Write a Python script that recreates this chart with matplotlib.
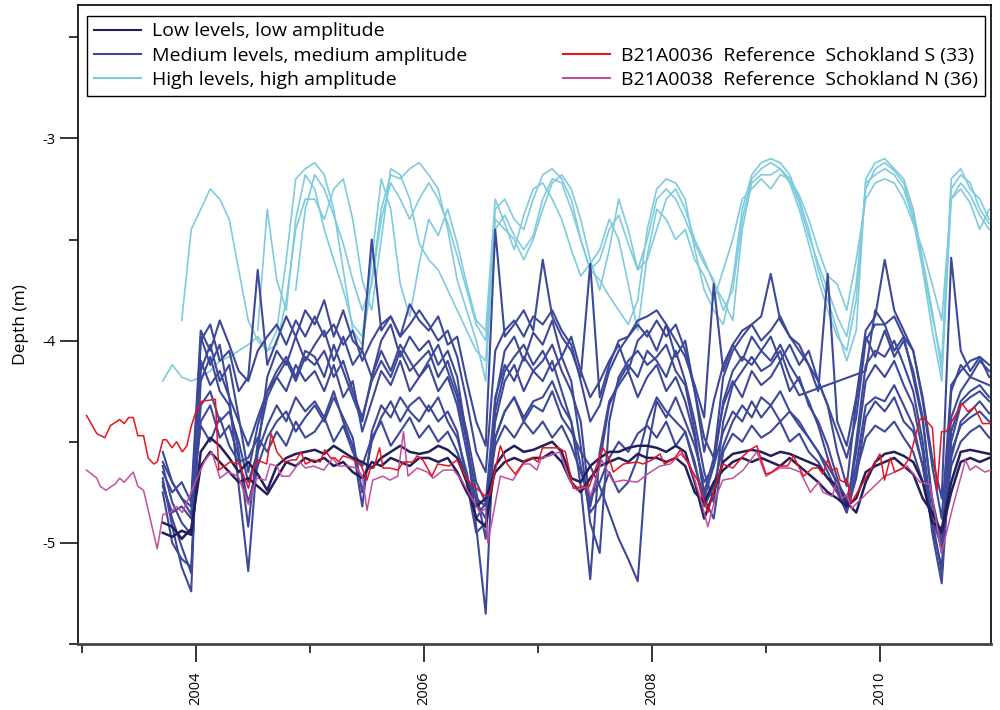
import numpy as np
import matplotlib
matplotlib.use("Agg")
import matplotlib.pyplot as plt
from matplotlib.lines import Line2D

plt.rcParams['font.family'] = ['Open Sans', 'DejaVu Sans']
plt.rcParams['axes.unicode_minus'] = False

# ---------------- data ----------------
# monthly series, Sep 2003 .. Dec 2010 (88 months); depth below datum in cm (plotted as negative m)
start_year, start_month, n_months = 2003, 9, 88

# High levels, high amplitude (light blue)
high_a = [None, None, 390, 345,
          335, 325, 330, 340, 365, 390, 400, 405, 395, 360, 320, 315,
          312, 318, 335, 365, 395, 402, 370, 335, 318, 320, 315, 312,
          318, 325, 345, 370, 385, 400, 420, 335, 330, 340, 345, 330,
          318, 315, 320, 330, 350, 365, 370, 378, 385, 392, 380, 345,
          325, 320, 322, 330, 355, 375, 385, 392, 370, 335, 318, 312,
          310, 312, 318, 330, 345, 365, 380, 395, 410, 395, 320, 312,
          310, 315, 320, 335, 360, 385, 415, 320, 315, 325, 330, 340]
high_b = [420, 412, 418, 420,
          418, 415, 410, 408, 405, 402, 398, 405, 402, 380, 345, 330,
          330, 340, 325, 320, 340, 370, 385, 350, 315, 318, 330, 352,
          360, 365, 375, 385, 395, 405, 410, 340, 345, 350, 360, 350,
          335, 322, 318, 325, 340, 360, 375, 355, 330, 345, 365, 360,
          345, 330, 325, 335, 350, 360, 372, 380, 390, 345, 322, 318,
          318, 315, 322, 335, 352, 370, 385, 398, 405, 380, 322, 318,
          315, 318, 325, 340, 365, 395, 420, 330, 322, 328, 338, 345]
high_c = [None, None, None, None,
          None, None, None, None, None, None, 395, 335, 370, 385, 340, 318,
          325, 345, 360, 375, 392, 398, 360, 320, 335, 372, 388, 362,
          340, 348, 335, 352, 372, 390, 395, 330, 342, 355, 338, 325,
          322, 330, 340, 355, 368, 362, 355, 340, 350, 372, 395, 358,
          335, 340, 350, 345, 360, 368, 380, 365, 350, 330, 325, 320,
          325, 318, 320, 328, 340, 355, 368, 372, 385, 360, 330, 322,
          320, 322, 330, 342, 355, 372, 390, 330, 325, 332, 345, 335]
high_d = [None, None, None, None,
          None, None, None, None, None, None, None, None, None, None, 375, 335,
          318, 325, 338, 352, 370, 385, 372, 340, 322, 330, 340, 330,
          322, 330, 342, 358, 375, 392, 400, 345, 338, 348, 355, 348,
          330, 320, 322, 335, 350, 365, 360, 345, 338, 352, 365, 350,
          330, 325, 330, 340, 352, 362, 370, 385, 375, 340, 320, 315,
          312, 315, 320, 332, 348, 362, 375, 388, 398, 372, 325, 315,
          312, 316, 322, 338, 362, 388, 410, 325, 318, 322, 335, 342]

# Medium levels, medium amplitude (blue)
med_1 = [468, 492, 512, 524,
         398, 412, 402, 428, 472, 514, 455, 418, 405, 412, 398, 410,
         402, 395, 410, 398, 412, 405, 418, 400, 392, 408, 398, 405,
         400, 412, 405, 418, 448, 492, 535, 430, 405, 398, 410, 396,
         402, 390, 408, 398, 415, 428, 420, 410, 402, 415, 400, 395,
         405, 392, 408, 400, 425, 455, 430, 412, 402, 410, 398, 405,
         398, 410, 402, 412, 405, 420, 432, 455, 472, 430, 398, 408,
         395, 408, 400, 415, 438, 480, 505, 425, 412, 418, 410, 415]
med_2 = [475, 500, 508, 512,
         420, 408, 425, 432, 455, 492, 450, 428, 418, 425, 412, 420,
         415, 425, 412, 428, 420, 445, 430, 415, 422, 410, 425, 418,
         412, 425, 418, 432, 455, 480, 488, 440, 420, 412, 425, 415,
         420, 410, 425, 440, 472, 518, 455, 430, 422, 415, 428, 418,
         412, 425, 418, 430, 448, 475, 458, 432, 420, 428, 415, 422,
         418, 410, 425, 418, 432, 440, 452, 468, 482, 455, 420, 412,
         418, 410, 422, 432, 455, 495, 520, 450, 432, 428, 425, 430]
med_3 = [462, 480, 490, 496,
         432, 425, 440, 435, 450, 470, 455, 442, 432, 440, 428, 435,
         430, 438, 425, 440, 452, 482, 445, 432, 438, 428, 435, 440,
         432, 440, 435, 445, 470, 495, 490, 448, 435, 428, 440, 432,
         435, 425, 438, 445, 455, 462, 472, 485, 498, 508, 519, 455,
         430, 438, 428, 440, 452, 470, 462, 445, 435, 440, 430, 438,
         432, 440, 435, 442, 448, 455, 465, 475, 485, 468, 438, 430,
         435, 428, 440, 445, 462, 492, 512, 455, 442, 438, 435, 440]
med_4 = [455, 470, 478, 482,
         400, 392, 410, 405, 425, 418, 365, 412, 400, 388, 398, 385,
         392, 380, 398, 385, 400, 405, 350, 395, 388, 398, 382, 390,
         395, 388, 402, 398, 420, 440, 452, 345, 398, 392, 385, 395,
         360, 388, 398, 405, 418, 362, 428, 412, 400, 398, 390, 388,
         385, 392, 400, 408, 422, 438, 372, 415, 402, 395, 392, 388,
         367, 390, 398, 405, 412, 425, 367, 440, 452, 428, 395, 388,
         360, 385, 395, 405, 428, 458, 478, 359, 405, 415, 408, 412]
med_5 = [465, 475, 470, 480,
         442, 450, 438, 452, 460, 458, 448, 455, 445, 452, 440, 448,
         445, 438, 450, 442, 455, 462, 448, 440, 452, 445, 438, 448,
         442, 450, 445, 455, 468, 478, 482, 452, 442, 448, 440, 446,
         440, 448, 442, 452, 465, 478, 470, 458, 450, 455, 446, 442,
         448, 440, 452, 445, 462, 478, 488, 455, 446, 450, 442, 448,
         445, 440, 450, 446, 455, 460, 468, 475, 482, 465, 448, 442,
         445, 440, 448, 455, 470, 485, 498, 462, 450, 445, 442, 448]
med_6 = [460, 470, 478, 486,
         410, 422, 415, 428, 440, 452, 438, 425, 418, 410, 420, 408,
         412, 405, 418, 410, 425, 438, 420, 410, 418, 405, 415, 410,
         405, 418, 410, 425, 445, 470, 480, 428, 412, 420, 408, 415,
         410, 402, 415, 425, 440, 482, 460, 432, 420, 412, 418, 405,
         410, 418, 405, 420, 440, 465, 480, 440, 422, 415, 408, 415,
         412, 405, 418, 427, None, None, None, None, None, None, 415, 385,
         392, 405, 398, 418, 440, 478, 500, 438, 425, 418, 420, 422]
med_7 = [472, 485, 482, 488,
         440, 432, 448, 442, 458, 480, 462, 448, 440, 435, 445, 438,
         432, 440, 428, 438, 448, 475, 450, 438, 430, 440, 432, 428,
         435, 428, 440, 448, 465, 488, 480, 448, 435, 428, 438, 430,
         428, 420, 432, 440, 462, 485, 478, 465, 475, 470, 458, 440,
         428, 435, 440, 445, 460, 482, 472, 452, 440, 432, 438, 428,
         432, 425, 435, 440, 448, 455, 462, 470, 478, 462, 432, 428,
         430, 422, 432, 442, 462, 488, 502, 458, 440, 435, 430, 436]
med_8 = [None, None, None, 478,
         395, 405, 390, 402, 415, 420, 405, 398, 392, 402, 390, 398,
         388, 398, 392, 402, 395, 410, 400, 392, 388, 398, 392, 385,
         392, 400, 395, 408, 430, 455, 465, 405, 395, 390, 398, 388,
         392, 385, 395, 402, 420, 440, 432, 415, 405, 398, 392, 398,
         390, 398, 392, 405, 425, 448, 458, 418, 405, 398, 392, 400,
         395, 388, 398, 402, 412, 420, 432, 445, 458, 438, 400, 392,
         392, 388, 398, 405, 430, 462, 488, 422, 415, 410, 408, 418]
med_9 = [470, 488, 502, 515,
         415, 402, 420, 412, 438, 465, 442, 425, 415, 408, 418, 405,
         408, 418, 402, 415, 428, 440, 418, 405, 415, 402, 410, 418,
         410, 402, 415, 428, 450, 475, 498, 435, 415, 408, 402, 412,
         405, 415, 408, 420, 452, 490, 505, 440, 418, 410, 405, 412,
         408, 402, 415, 422, 445, 478, 462, 430, 415, 408, 412, 405,
         410, 402, 412, 420, 430, 442, 458, 472, 485, 450, 412, 405,
         408, 400, 412, 425, 450, 488, 515, 445, 430, 425, 422, 428]

# Low levels, low amplitude (dark navy)
low_1 = [495, 497, 494, 496,
         455, 448, 452, 458, 465, 460, 466, 474, 462, 458, 456, 455,
         454, 456, 452, 455, 458, 460, 463, 458, 455, 452, 455, 456,
         455, 452, 454, 458, 470, 488, 492, 462, 455, 452, 455, 454,
         452, 450, 455, 468, 470, 462, 458, 455, 455, 453, 452, 452,
         453, 455, 452, 455, 470, 488, 475, 460, 456, 455, 454, 455,
         457, 455, 456, 458, 460, 462, 468, 472, 480, 485, 470, 460,
         456, 455, 457, 460, 470, 490, 493, 470, 455, 454, 455, 456]
low_2 = [490, 492, 498, 493,
         462, 455, 460, 465, 470, 468, 472, 476, 468, 460, 462, 458,
         460, 458, 462, 460, 465, 468, 460, 462, 458, 460, 462, 458,
         458, 460, 458, 465, 475, 482, 478, 465, 460, 458, 460, 458,
         458, 455, 460, 470, 475, 468, 462, 460, 458, 460, 456, 458,
         458, 460, 458, 462, 475, 480, 470, 464, 460, 458, 460, 458,
         460, 462, 458, 462, 466, 470, 475, 478, 482, 478, 465, 462,
         460, 458, 462, 466, 478, 485, 495, 475, 460, 458, 460, 458]

# Reference wells (irregular measurement dates, depth in m)
ref_s = [(2003.04, -4.37), (2003.13, -4.46), (2003.20, -4.48), (2003.25, -4.42), (2003.33, -4.39),
         (2003.37, -4.41), (2003.41, -4.38), (2003.45, -4.38), (2003.49, -4.47), (2003.54, -4.47),
         (2003.58, -4.58), (2003.63, -4.61), (2003.66, -4.60), (2003.71, -4.49), (2003.74, -4.49),
         (2003.79, -4.53), (2003.83, -4.50), (2003.88, -4.55), (2003.92, -4.52), (2003.96, -4.42),
         (2004.00, -4.35), (2004.05, -4.30), (2004.17, -4.29), (2004.20, -4.64), (2004.30, -4.60),
         (2004.38, -4.61), (2004.46, -4.73), (2004.50, -4.64), (2004.54, -4.59), (2004.62, -4.61),
         (2004.66, -4.46), (2004.71, -4.55), (2004.78, -4.60), (2004.84, -4.59), (2004.88, -4.59),
         (2004.92, -4.55), (2004.96, -4.61), (2005.03, -4.59), (2005.09, -4.60), (2005.13, -4.54),
         (2005.18, -4.58), (2005.22, -4.58), (2005.25, -4.60), (2005.29, -4.57), (2005.35, -4.58),
         (2005.41, -4.60), (2005.45, -4.62), (2005.50, -4.69), (2005.53, -4.63), (2005.56, -4.63),
         (2005.61, -4.53), (2005.64, -4.63), (2005.70, -4.63), (2005.77, -4.64), (2005.82, -4.60),
         (2005.90, -4.60), (2005.94, -4.57), (2005.99, -4.59), (2006.07, -4.67), (2006.12, -4.61),
         (2006.22, -4.62), (2006.29, -4.59), (2006.38, -4.69), (2006.46, -4.73), (2006.54, -4.77),
         (2006.58, -4.76), (2006.67, -4.52), (2006.73, -4.61), (2006.80, -4.66), (2006.89, -4.59),
         (2006.95, -4.58), (2007.00, -4.60), (2007.04, -4.53), (2007.18, -4.53), (2007.24, -4.55),
         (2007.31, -4.73), (2007.40, -4.72), (2007.45, -4.72), (2007.57, -4.53), (2007.63, -4.59),
         (2007.66, -4.65), (2007.75, -4.61), (2007.87, -4.60), (2007.92, -4.61), (2008.00, -4.59),
         (2008.07, -4.56), (2008.11, -4.61), (2008.20, -4.58), (2008.25, -4.54), (2008.32, -4.61),
         (2008.40, -4.69), (2008.49, -4.85), (2008.57, -4.69), (2008.62, -4.61), (2008.71, -4.63),
         (2008.80, -4.57), (2008.86, -4.54), (2008.92, -4.52), (2009.00, -4.66), (2009.05, -4.65),
         (2009.12, -4.62), (2009.19, -4.62), (2009.24, -4.57), (2009.33, -4.67), (2009.41, -4.63),
         (2009.46, -4.63), (2009.50, -4.66), (2009.54, -4.59), (2009.58, -4.64), (2009.62, -4.63),
         (2009.65, -4.69), (2009.69, -4.70), (2009.71, -4.68), (2009.75, -4.80), (2010.00, -4.56),
         (2010.04, -4.69), (2010.09, -4.58), (2010.13, -4.65), (2010.20, -4.63), (2010.26, -4.58),
         (2010.35, -4.39), (2010.38, -4.38), (2010.46, -4.43), (2010.50, -4.74), (2010.54, -4.45),
         (2010.58, -4.45), (2010.72, -4.31), (2010.77, -4.35), (2010.83, -4.33), (2010.90, -4.41),
         (2010.97, -4.41)]
ref_n = [(2003.04, -4.64), (2003.13, -4.68), (2003.16, -4.72), (2003.21, -4.74), (2003.26, -4.72),
         (2003.29, -4.71), (2003.33, -4.68), (2003.37, -4.70), (2003.45, -4.65), (2003.49, -4.72),
         (2003.54, -4.74), (2003.66, -5.03), (2003.71, -4.86), (2003.77, -4.85), (2003.83, -4.82),
         (2003.88, -4.85), (2003.95, -4.76), (2004.04, -4.64), (2004.08, -4.59), (2004.14, -4.55),
         (2004.21, -4.68), (2004.28, -4.65), (2004.37, -4.67), (2004.46, -4.81), (2004.53, -4.68),
         (2004.61, -4.69), (2004.65, -4.61), (2004.71, -4.62), (2004.75, -4.67), (2004.82, -4.67),
         (2004.91, -4.60), (2004.96, -4.63), (2005.03, -4.62), (2005.12, -4.64), (2005.20, -4.58),
         (2005.25, -4.62), (2005.32, -4.62), (2005.41, -4.63), (2005.46, -4.67), (2005.50, -4.84),
         (2005.55, -4.69), (2005.64, -4.67), (2005.70, -4.69), (2005.77, -4.67), (2005.82, -4.45),
         (2005.86, -4.67), (2005.94, -4.63), (2006.03, -4.65), (2006.08, -4.68), (2006.17, -4.64),
         (2006.26, -4.64), (2006.33, -4.69), (2006.43, -4.79), (2006.49, -4.85), (2006.54, -4.83),
         (2006.56, -5.00), (2006.61, -4.85), (2006.67, -4.67), (2006.78, -4.69), (2006.87, -4.61),
         (2006.93, -4.61), (2006.99, -4.64), (2007.03, -4.58), (2007.10, -4.57), (2007.19, -4.55),
         (2007.28, -4.69), (2007.34, -4.74), (2007.43, -4.72), (2007.46, -4.77), (2007.56, -4.59),
         (2007.66, -4.70), (2007.75, -4.69), (2007.87, -4.70), (2007.96, -4.66), (2008.07, -4.62),
         (2008.16, -4.61), (2008.25, -4.56), (2008.33, -4.61), (2008.42, -4.77), (2008.49, -4.92),
         (2008.55, -4.79), (2008.62, -4.69), (2008.71, -4.68), (2008.80, -4.64), (2008.92, -4.55),
         (2009.00, -4.67), (2009.12, -4.63), (2009.21, -4.63), (2009.30, -4.65), (2009.39, -4.75),
         (2009.46, -4.70), (2009.50, -4.75), (2009.58, -4.77), (2009.62, -4.70), (2009.67, -4.78),
         (2009.71, -4.76), (2009.75, -4.83), (2010.04, -4.67), (2010.09, -4.66), (2010.24, -4.62),
         (2010.35, -4.70), (2010.44, -4.71), (2010.54, -5.05), (2010.64, -4.82), (2010.75, -4.59),
         (2010.79, -4.64), (2010.84, -4.62), (2010.92, -4.65), (2010.97, -4.64)]

legend_labels = ["Low levels, low amplitude", "Medium levels, medium amplitude",
                 "High levels, high amplitude",
                 "B21A0036  Reference  Schokland S (33)", "B21A0038  Reference  Schokland N (36)"]
year_ticks_major = [2004, 2006, 2008, 2010]
year_ticks_minor = [2003, 2005, 2007, 2009]

# ---------------- styling ----------------
c_low, c_med, c_high = "#221f5c", "#3d4898", "#7ecbdd"
c_red, c_mag = "#e8131f", "#c24e9c"

month_t = start_year + (start_month - 1 + np.arange(n_months) + 0.5) / 12.0


def series_xy(vals):
    v = np.array([np.nan if x is None else x for x in vals], dtype=float)
    ok = ~np.isnan(v)
    return month_t[ok], -v[ok] / 100.0


fig = plt.figure(figsize=(10, 7.1), dpi=100)
ax = fig.add_axes([0.078, 0.093, 0.913, 0.900])

for s in (high_a, high_b, high_c, high_d):
    x, y = series_xy(s)
    ax.plot(x, y, color=c_high, lw=1.2, zorder=2)
for s in (med_1, med_2, med_3, med_4, med_5, med_6, med_7, med_8, med_9):
    x, y = series_xy(s)
    ax.plot(x, y, color=c_med, lw=1.5, zorder=3)
for s in (low_1, low_2):
    x, y = series_xy(s)
    ax.plot(x, y, color=c_low, lw=1.8, zorder=4)

tn, dn = zip(*ref_n)
ax.plot(tn, dn, color=c_mag, lw=1.1, zorder=5)
ts, ds = zip(*ref_s)
ax.plot(ts, ds, color=c_red, lw=1.1, zorder=6)

ax.set_xlim(2002.965, 2010.974)
ax.set_ylim(-5.5, -2.34)

ax.set_yticks([-5, -4, -3])
ax.set_yticklabels(["-5", "-4", "-3"])
ax.set_yticks([-5.5, -4.5, -3.5, -2.5], minor=True)
ax.set_xticks(year_ticks_major)
ax.set_xticklabels([str(y) for y in year_ticks_major], rotation=90)
ax.set_xticks(year_ticks_minor, minor=True)

ax.tick_params(axis='both', which='major', length=13, width=1.1, labelsize=10.5, color='black')
ax.tick_params(axis='both', which='minor', length=6.5, width=1.1, color='black')
ax.tick_params(axis='x', which='major', pad=7)
ax.tick_params(axis='y', which='major', pad=3)
for sp in ax.spines.values():
    sp.set_linewidth(1.2)
ax.spines['bottom'].set_linewidth(2.0)
ax.spines['bottom'].set_color('#444444')

ax.set_ylabel("Depth (m)", fontsize=12.5, labelpad=10)

handles = [Line2D([], [], color=c_low, lw=1.5),
           Line2D([], [], color=c_med, lw=1.5),
           Line2D([], [], color=c_high, lw=1.5),
           Line2D([], [], color='none'),
           Line2D([], [], color=c_red, lw=1.5),
           Line2D([], [], color=c_mag, lw=1.5)]
labels = [legend_labels[0], legend_labels[1], legend_labels[2], "",
          legend_labels[3], legend_labels[4]]
leg = ax.legend(handles, labels, ncol=2, mode="expand",
                bbox_to_anchor=(0.0099, 0.8576, 0.9836, 0.1361), loc="lower left",
                fontsize=14, frameon=True, fancybox=False, edgecolor='black',
                framealpha=1, handlelength=2.4, handletextpad=0.6,
                labelspacing=0.33, borderpad=0.35, borderaxespad=0)
leg.get_frame().set_linewidth(1.0)

fig.savefig("out.png", dpi=100)
